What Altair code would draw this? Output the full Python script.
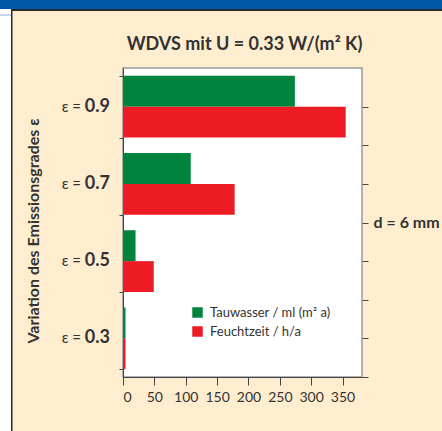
import altair as alt
import pandas as pd

emiss = ["0.9", "0.7", "0.5", "0.3"]
tauwasser = [274, 108, 20, 4]
feuchtzeit = [355, 178, 49, 4]
series = ["Tauwasser / ml (m² a)", "Feuchtzeit / h/a"]
colors = ["#00843D", "#ED1C24"]
x_ticks = [0, 50, 100, 150, 200, 250, 300, 350]
right_ticks = [0, 1, 2, 3, 4, 5, 6, 7]
title_text = "WDVS mit U = 0.33 W/(m² K)"

rows = []
for e, t, f in zip(emiss, tauwasser, feuchtzeit):
    rows.append({"eps": e, "serie": series[0], "wert": t})
    rows.append({"eps": e, "serie": series[1], "wert": f})
df = pd.DataFrame(rows)
dfe = pd.DataFrame({"eps": emiss, "r": [0] * len(emiss)})

W, H = 239, 309
PL, PT = 123, 68
FONT = "Lato"
TXT = "#333333"
AX = "#444444"

yscale = alt.Scale(domain=emiss, paddingInner=0.2, paddingOuter=0.1)
xscale = alt.Scale(domain=[0, 381], nice=False)

bars = alt.Chart(df).mark_bar().encode(
    y=alt.Y("eps:N", sort=emiss, scale=yscale,
            axis=alt.Axis(labels=False, title="Variation des Emissionsgrades ε",
                          tickBand="extent", tickSize=4, tickColor=AX, domainColor=AX,
                          titleFontSize=16, titleFontWeight="bold", titleColor=TXT,
                          titleX=-90, titleY=H / 2 + 8, titleBaseline="middle", titleAngle=270)),
    yOffset=alt.YOffset("serie:N", sort=series),
    x=alt.X("wert:Q", scale=xscale,
            axis=alt.Axis(title=None, values=x_ticks, tickSize=8, tickColor=AX,
                          domainColor=AX, labelFontSize=14, labelColor=TXT,
                          labelPadding=5, grid=False)),
    color=alt.Color("serie:N", sort=series,
                    scale=alt.Scale(domain=series, range=colors),
                    legend=alt.Legend(title=None, orient="none", legendX=68, legendY=238,
                                      symbolType="square", symbolSize=110,
                                      symbolStrokeWidth=0, labelFontSize=13,
                                      labelColor=TXT, labelOffset=6, rowPadding=5)),
)

num = alt.Chart(dfe).mark_text(align="right", baseline="middle", fontWeight="bold",
                               fontSize=18, color=TXT, font=FONT).encode(
    y=alt.Y("eps:N", sort=emiss, scale=yscale, axis=None),
    x=alt.value(-13),
    text="eps:N",
)
epsl = alt.Chart(dfe).mark_text(align="right", baseline="middle", fontSize=15,
                                color=TXT, font=FONT).encode(
    y=alt.Y("eps:N", sort=emiss, scale=yscale, axis=None),
    x=alt.value(-42),
    text=alt.value("ε ="),
)

right = alt.Chart(dfe).mark_point(opacity=0).encode(
    y=alt.Y("r:Q", scale=alt.Scale(domain=[0, 8], nice=False),
            axis=alt.Axis(orient="right", values=right_ticks, labels=False, grid=False,
                          tickSize=6, tickColor=AX, domain=False,
                          title="d = 6 mm", titleAngle=0, titleX=11, titleY=H / 2,
                          titleAlign="left", titleBaseline="middle",
                          titleFontSize=16, titleFontWeight="bold", titleColor=TXT)),
)

one = pd.DataFrame({"a": [0]})
ttl = alt.Chart(one).mark_text(align="center", baseline="alphabetic", fontSize=18,
                               fontWeight="bold", color=TXT, font=FONT).encode(
    x=alt.value(W / 2 + 2), y=alt.value(-18), text=alt.value(title_text))
blue = alt.Chart(one).mark_rect(color="#0059A8").encode(
    x=alt.value(-PL), x2=alt.value(442 - PL), y=alt.value(-PT), y2=alt.value(-PT + 9))
dark = alt.Chart(one).mark_rect(color="#2a2a2a").encode(
    x=alt.value(-PL + 11), x2=alt.value(442 - PL), y=alt.value(-PT + 9), y2=alt.value(-PT + 11))
white = alt.Chart(one).mark_rect(color="white").encode(
    x=alt.value(-PL), x2=alt.value(-PL + 11), y=alt.value(-PT + 9), y2=alt.value(431 - PT))
vline = alt.Chart(one).mark_rect(color="#2a2a2a").encode(
    x=alt.value(-PL + 11), x2=alt.value(-PL + 12.5), y=alt.value(-PT + 9), y2=alt.value(431 - PT))
bline = alt.Chart(one).mark_rule(color="#8ea6d6", strokeWidth=1).encode(
    x=alt.value(-PL), x2=alt.value(-PL + 11), y=alt.value(-PT + 15))

chart = alt.layer(bars, num, epsl, right, ttl, blue, dark, white, vline, bline).resolve_scale(
    y="independent"
).properties(
    width=W, height=H,
    autosize=alt.AutoSizeParams(type="none"),
    padding={"left": PL, "top": PT, "right": 442 - PL - W, "bottom": 431 - PT - H},
    background="#FFEDCF",
).configure(font=FONT).configure_view(fill="white", stroke="#999999", strokeWidth=1.5)

chart.save("out.html", embed_options={"renderer": "svg", "actions": False})
